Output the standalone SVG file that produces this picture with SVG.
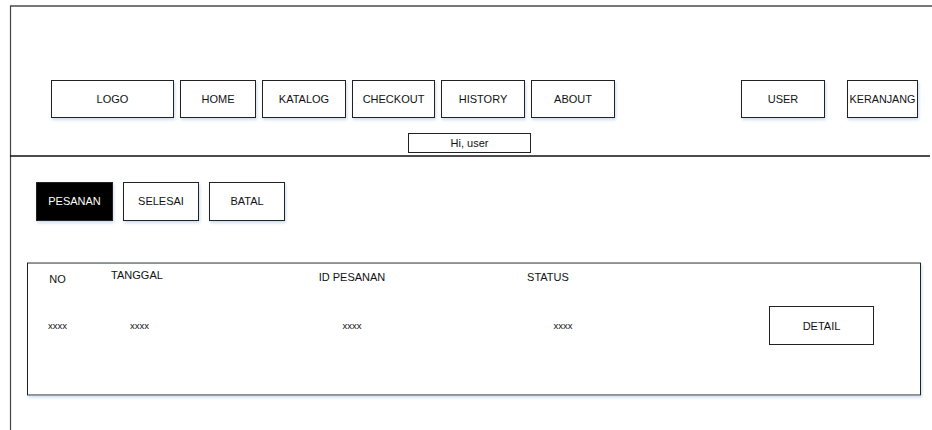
<svg xmlns="http://www.w3.org/2000/svg" width="932" height="430" viewBox="0 0 932 430">
<defs>
<filter id="sh" x="-10%" y="-20%" width="130%" height="160%">
<feDropShadow dx="1" dy="2" stdDeviation="1.5" flood-color="#b8cfe8" flood-opacity="0.7"/>
</filter>
</defs>
<style>
.box{fill:#fff;stroke:#222;stroke-width:1}
.dark{fill:#000;stroke:#222;stroke-width:1}
text{font-family:"Liberation Sans",Arial,sans-serif;font-size:11px;fill:#111;text-anchor:middle}
.w{fill:#fff}
.s{font-size:9.5px}
</style>
<g id="frame">
<line x1="10" y1="6" x2="932" y2="6" stroke="#777" stroke-width="2"/>
<line x1="10.5" y1="6" x2="10.5" y2="430" stroke="#444" stroke-width="1.2"/>
<line x1="10" y1="156" x2="930" y2="156" stroke="#111" stroke-width="1.5"/>
</g>
<g id="logo"><rect class="box" x="51.5" y="80.5" width="122" height="37" filter="url(#sh)"/><text x="112.5" y="103">LOGO</text></g>
<g id="home"><rect class="box" x="180.5" y="80.5" width="75" height="37" filter="url(#sh)"/><text x="218" y="103">HOME</text></g>
<g id="katalog"><rect class="box" x="262.5" y="80.5" width="83" height="37" filter="url(#sh)"/><text x="304" y="103">KATALOG</text></g>
<g id="checkout"><rect class="box" x="352.5" y="80.5" width="82" height="37" filter="url(#sh)"/><text x="393.5" y="103">CHECKOUT</text></g>
<g id="history"><rect class="box" x="441.5" y="80.5" width="83" height="37" filter="url(#sh)"/><text x="483" y="103">HISTORY</text></g>
<g id="about"><rect class="box" x="531.5" y="80.5" width="83" height="37" filter="url(#sh)"/><text x="573" y="103">ABOUT</text></g>
<g id="user"><rect class="box" x="741.5" y="80.5" width="83" height="37" filter="url(#sh)"/><text x="783" y="103">USER</text></g>
<g id="keranjang"><rect class="box" x="847.5" y="80.5" width="70" height="37" filter="url(#sh)"/><text x="882.5" y="103" textLength="66" lengthAdjust="spacingAndGlyphs">KERANJANG</text></g>
<g id="hiuser"><rect class="box" x="408.5" y="133.5" width="122" height="19"/><text x="469.5" y="147">Hi, user</text></g>
<g id="pesanan"><rect class="dark" x="36.5" y="182.5" width="76" height="38" filter="url(#sh)"/><text class="w" x="74.5" y="205">PESANAN</text></g>
<g id="selesai"><rect class="box" x="123.5" y="182.5" width="75" height="38" filter="url(#sh)"/><text x="161" y="205">SELESAI</text></g>
<g id="batal"><rect class="box" x="209.5" y="182.5" width="75" height="38" filter="url(#sh)"/><text x="247" y="205">BATAL</text></g>
<g id="table">
<rect class="box" x="27.5" y="263" width="893" height="132" filter="url(#sh)" stroke="#333"/>
<text x="57.5" y="283">NO</text>
<text x="137" y="279">TANGGAL</text>
<text x="352" y="281">ID PESANAN</text>
<text x="548" y="281">STATUS</text>
<text class="s" x="57.5" y="329">xxxx</text>
<text class="s" x="139.5" y="329">xxxx</text>
<text class="s" x="352" y="329">xxxx</text>
<text class="s" x="563" y="329">xxxx</text>
</g>
<g id="detail"><rect class="box" x="769.5" y="306.5" width="104" height="38"/><text x="821.5" y="330">DETAIL</text></g>
</svg>
